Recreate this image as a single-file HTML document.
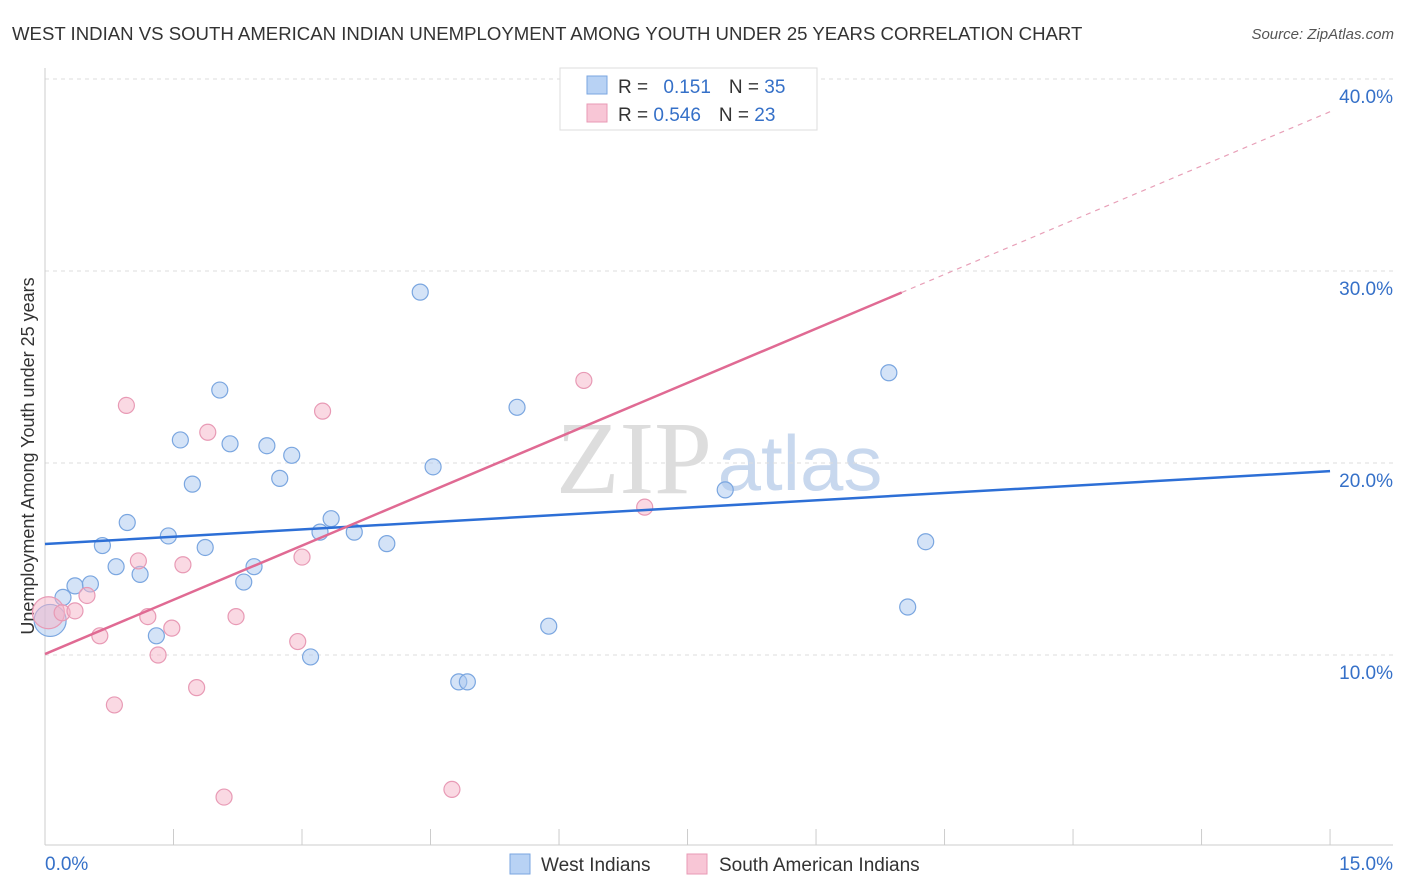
<!DOCTYPE html>
<html><head><meta charset="utf-8"><style>
body{margin:0;background:#fff;font-family:"Liberation Sans",sans-serif;}
svg{display:block}
</style></head><body>
<svg id="c" width="1406" height="892">
<text x="12" y="40" font-size="18.6" fill="#333">WEST INDIAN VS SOUTH AMERICAN INDIAN UNEMPLOYMENT AMONG YOUTH UNDER 25 YEARS CORRELATION CHART</text>
<text x="1394" y="39" font-size="15" fill="#555" font-style="italic" text-anchor="end">Source: ZipAtlas.com</text>
<text x="34" y="456" font-size="18" fill="#333" text-anchor="middle" transform="rotate(-90 34 456)">Unemployment Among Youth under 25 years</text>
<text x="634" y="493" font-size="104" fill="#ddd" font-family="Liberation Serif,serif" text-anchor="middle">ZIP</text>
<text x="800" y="490" font-size="78" fill="#c8d8ee" text-anchor="middle">atlas</text>
<g id="grid"></g><g id="marks"></g>
<g>
<rect x="560" y="68" width="257" height="62" fill="#fff" stroke="#ddd"/>
<rect x="587" y="76" width="20" height="18" fill="#b8d2f4" stroke="#7aa6e0"/>
<rect x="587" y="104" width="20" height="18" fill="#f8c6d6" stroke="#e89ab5"/>
<text x="618" y="93" font-size="19" fill="#333">R = <tspan fill="#3570c8" dx="10">0.151</tspan><tspan dx="18" fill="#333">N = </tspan><tspan fill="#3570c8">35</tspan></text>
<text x="618" y="121" font-size="19" fill="#333">R = <tspan fill="#3570c8">0.546</tspan><tspan dx="18" fill="#333">N = </tspan><tspan fill="#3570c8">23</tspan></text>
</g>
<g>
<rect x="510" y="854" width="20" height="20" fill="#b8d2f4" stroke="#7aa6e0"/>
<text x="541" y="871" font-size="19" fill="#333">West Indians</text>
<rect x="687" y="854" width="20" height="20" fill="#f8c6d6" stroke="#e89ab5"/>
<text x="719" y="871" font-size="19" fill="#333">South American Indians</text>
</g>
</svg>
<script>
const xTicks=[0,15];
const yTicks=[10,20,30,40];
const blueX=[0.06,0.21,0.35,0.53,0.67,0.83,0.96,1.11,1.30,1.44,1.58,1.72,1.87,2.04,2.16,2.32,2.44,2.59,2.74,2.88,3.10,3.21,3.34,3.61,3.99,4.38,4.53,4.83,4.93,5.51,5.88,7.94,9.85,10.07,10.28];
const blueY=[11.8,13.0,13.6,13.7,15.7,14.6,16.9,14.2,11.0,16.2,21.2,18.9,15.6,23.8,21.0,13.8,14.6,20.9,19.2,20.4,9.9,16.4,17.1,16.4,15.8,28.9,19.8,8.6,8.6,22.9,11.5,18.6,24.7,12.5,15.9];
const pinkX=[0.04,0.20,0.35,0.49,0.64,0.81,0.95,1.09,1.20,1.32,1.48,1.61,1.77,1.90,2.09,2.23,2.95,3.00,3.24,4.75,6.29,7.00,8.17];
const pinkY=[12.2,12.2,12.3,13.1,11.0,7.4,23.0,14.9,12.0,10.0,11.4,14.7,8.3,21.6,2.6,12.0,10.7,15.1,22.7,3.0,24.3,17.7,38.4];
const blueFit=[15.78,0.253], pinkFit=[10.05,1.883], pinkSolidEnd=10.0;
const X=v=>45+v*85.67, Y=v=>847-v*19.2;
const NS='http://www.w3.org/2000/svg';
function mk(t,a,p){const e=document.createElementNS(NS,t);for(const k in a)e.setAttribute(k,a[k]);p.appendChild(e);return e;}
const g=document.getElementById('grid'), m=document.getElementById('marks');
yTicks.forEach(v=>{
 const l=mk('line',{x1:45,x2:1393,y1:Y(v),y2:Y(v),stroke:'#ddd','stroke-dasharray':'4 4'},g);
 
 
 const t=mk('text',{x:1393,y:Y(v)+24,'font-size':19,fill:'#3570c8','text-anchor':'end'},g);t.textContent=v.toFixed(1)+'%';
 
 
});
mk('line',{x1:45,x2:45,y1:68,y2:845,stroke:'#ccc'},g);
mk('line',{x1:45,x2:1393,y1:845,y2:845,stroke:'#ccc'},g);
for(let i=0;i<=10;i++){const x=X(i*1.5);mk('line',{x1:x,x2:x,y1:829,y2:845,stroke:'#ccc'},g);}
xTicks.forEach((v,i)=>{const t=mk('text',{x:i?1393:45,y:870,'font-size':19,fill:'#3570c8','text-anchor':i?'end':'start'},g);t.textContent=v.toFixed(1)+'%';
 
 });
function dots(xs,ys,fill,stroke,name){xs.forEach((x,i)=>{
 const c=mk('circle',{cx:X(x),cy:Y(ys[i]),r:i==0?16:8,fill:fill,stroke:stroke,'stroke-width':1.2},m);
 
 });}
dots(blueX,blueY,'rgba(170,200,240,0.5)','#7aa6e0','west-indian-point');
dots(pinkX,pinkY,'rgba(245,180,200,0.5)','#e89ab5','south-american-indian-point');
const bl=mk('line',{x1:X(0),y1:Y(blueFit[0]),x2:X(15),y2:Y(blueFit[0]+15*blueFit[1]),stroke:'#2d6fd6','stroke-width':2.5},m);


const pl=mk('line',{x1:X(0),y1:Y(pinkFit[0]),x2:X(pinkSolidEnd),y2:Y(pinkFit[0]+pinkSolidEnd*pinkFit[1]),stroke:'#e06a93','stroke-width':2.5},m);


const pd=mk('line',{x1:X(pinkSolidEnd),y1:Y(pinkFit[0]+pinkSolidEnd*pinkFit[1]),x2:X(15),y2:Y(pinkFit[0]+15*pinkFit[1]),stroke:'#e8a0b8','stroke-width':1.2,'stroke-dasharray':'5 5'},m);


</script>
</body></html>
